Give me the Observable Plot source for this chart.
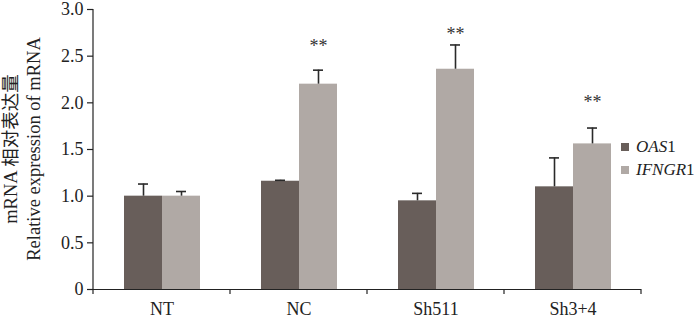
<!DOCTYPE html>
<html>
<head>
<meta charset="utf-8">
<script src="https://cdn.jsdelivr.net/npm/d3@7"></script>
<script src="https://cdn.jsdelivr.net/npm/@observablehq/plot@0.6"></script>
<style>
  body { margin: 0; background: #fff; }
  #chart { position: relative; width: 700px; height: 318px; font-family: "Liberation Serif", "Times New Roman", "Noto Sans CJK SC", serif; color: #222; }
  .legend { position: absolute; left: 621px; font-size: 17px; line-height: 16px; white-space: nowrap; display: flex; align-items: center; }
  .legend .sw { display: inline-block; width: 8px; height: 8px; margin-right: 7px; }
</style>
</head>
<body>
<div id="chart"></div>
<script>
const categories = ["NT", "NC", "Sh511", "Sh3+4"];
const series = ["OAS1", "IFNGR1"];
const oas1 = [1.00, 1.16, 0.95, 1.10];
const oas1Err = [0.13, 0.01, 0.08, 0.31];
const ifngr1 = [1.00, 2.20, 2.36, 1.56];
const ifngr1Err = [0.05, 0.15, 0.26, 0.17];
const sigLabels = ["", "**", "**", "**"];
const sigY = [null, 2.61, 2.74, 2.01];
const yTicks = [0, 0.5, 1.0, 1.5, 2.0, 2.5, 3.0];
const yLabelLines = ["mRNA 相对表达量", "Relative expression of mRNA"];
const colors = ["#685e5a", "#b0a9a5"];

const data = categories.flatMap((c, i) => [
  {cat: c, series: series[0], value: oas1[i], err: oas1Err[i], sig: "", sigY: null},
  {cat: c, series: series[1], value: ifngr1[i], err: ifngr1Err[i], sig: sigLabels[i], sigY: sigY[i]}
]);

const font = '"Liberation Serif", "Times New Roman", "Noto Sans CJK SC", serif';

const plot = Plot.plot({
  width: 700,
  height: 318,
  marginLeft: 91,
  marginRight: 58,
  marginTop: 9,
  marginBottom: 29,
  style: {fontFamily: font, fontSize: "18px", color: "#222", background: "transparent"},
  fx: {domain: categories, padding: 0},
  x: {domain: series, paddingInner: 0, paddingOuter: 0.77, axis: null},
  y: {domain: [0, 3]},
  color: {domain: series, range: colors},
  marks: [
    Plot.barY(data, {fx: "cat", x: "series", y: "value", fill: "series"}),
    Plot.ruleX(data, {fx: "cat", x: "series", y1: "value", y2: d => d.value + d.err, stroke: "#2a2a2a", strokeWidth: 1.6}),
    Plot.tickY(data, {fx: "cat", x: "series", y: d => d.value + d.err, stroke: "#2a2a2a", strokeWidth: 1.6, insetLeft: 14, insetRight: 14}),
    Plot.text(data.filter(d => d.sig), {fx: "cat", x: "series", y: "sigY", text: "sig", fontSize: 18, fill: "#333"}),
    Plot.ruleY([0], {stroke: "#222", strokeWidth: 1.2}),
    Plot.axisY({ticks: yTicks, tickFormat: d => d === 0 ? "0" : d.toFixed(1), tickSize: 6, tickPadding: 4, fontSize: 18, label: null, strokeWidth: 1.2}),
    Plot.axisFx({anchor: "bottom", tickSize: 0, tickPadding: 13, fontSize: 18, label: null})
  ]
});

const root = document.getElementById("chart");
root.appendChild(plot);

// axis line and category boundary ticks, placed through Plot's own scales
const svg = d3.select(plot.tagName.toLowerCase() === "svg" ? plot : plot.querySelector("svg"));
const fx = plot.scale("fx");
const y = plot.scale("y");
const bw = fx.bandwidth;
const starts = categories.map(c => fx.apply(c));
const bounds = [...starts, starts[starts.length - 1] + bw];
const y0 = y.apply(0), yTop = y.apply(3);
const g = svg.append("g").attr("stroke", "#222").attr("stroke-width", 1.2);
g.append("line").attr("x1", bounds[0]).attr("x2", bounds[0]).attr("y1", y0).attr("y2", yTop);
g.selectAll("line.b").data(bounds).join("line").attr("class", "b")
  .attr("x1", d => d).attr("x2", d => d).attr("y1", y0).attr("y2", y0 + 5);

// two-line rotated y label, centred on the plot area
const yMid = (y0 + yTop) / 2;
svg.append("g").attr("font-family", font).attr("font-size", 18.5).attr("fill", "#222")
  .selectAll("text").data(yLabelLines).join("text")
  .attr("transform", (d, i) => `translate(${i === 0 ? 17 : 40},${yMid}) rotate(-90)`)
  .attr("text-anchor", "middle")
  .text(d => d);

// legend
const legendRows = [
  {html: "<i>OAS</i>1", color: colors[0], top: 139},
  {html: "<i>IFNGR</i>1", color: colors[1], top: 162}
];
for (const r of legendRows) {
  const div = document.createElement("div");
  div.className = "legend";
  div.style.top = r.top + "px";
  div.innerHTML = `<span class="sw" style="background:${r.color}"></span><span>${r.html}</span>`;
  root.appendChild(div);
}
</script>
</body>
</html>
